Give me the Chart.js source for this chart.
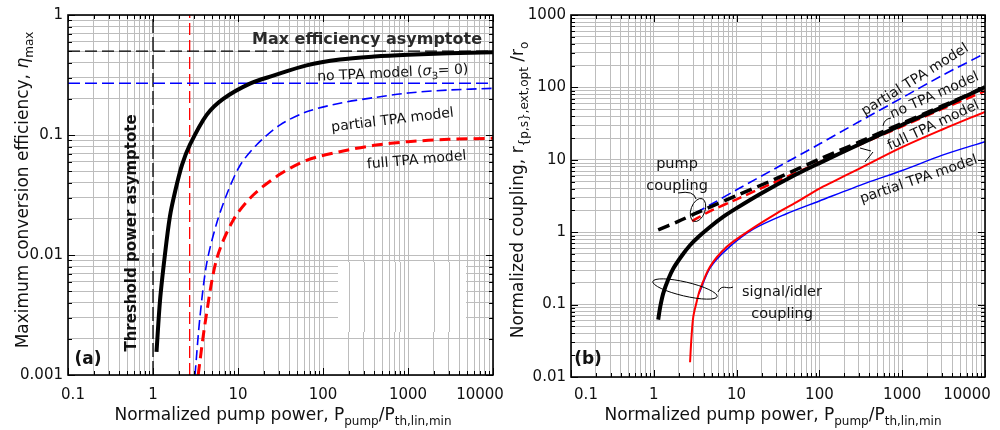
<!DOCTYPE html>
<html>
<head>
<meta charset="utf-8">
<script src="https://cdn.jsdelivr.net/npm/chart.js@4"></script>
<style>
  body { margin: 0; background: #fff; }
  #wrap { position: relative; width: 1000px; height: 430px; background: #fff; overflow: hidden; }
  canvas { position: absolute; top: 0; }
  #chartA { left: 0; }
  #chartB { left: 500px; }
</style>
</head>
<body>
<div id="wrap">
  <canvas id="chartA" width="510" height="430"></canvas>
  <canvas id="chartB" width="500" height="430"></canvas>
</div>
<script>
const FONT = '"DejaVu Sans", sans-serif';
const GRID = '#bdbdbd';

// tick labels
const xTickLabels = ['0.1', '1', '10', '100', '1000', '10000'];
const yTickLabelsA = ['0.001', '0.01', '0.1', '1'];
const yTickLabelsB = ['0.01', '0.1', '1', '10', '100', '1000'];

// (a) maximum conversion efficiency
const effNoTpaX = [1.1, 1.21, 1.38, 1.58, 1.815, 2.19, 2.72, 4.28, 6.7, 13.8, 26, 64, 158, 400, 1000, 3000, 10000];
const effNoTpaY = [0.00156, 0.0042, 0.01, 0.0209, 0.0335, 0.056, 0.083, 0.147, 0.2, 0.268, 0.312, 0.38, 0.425, 0.45, 0.466, 0.479, 0.489];
const effPartialX = [3.12, 3.57, 4.28, 5.61, 7.5, 10.6, 16.6, 31, 64, 158, 400, 1000, 3000, 10000];
const effPartialY = [0.001, 0.00306, 0.0085, 0.0184, 0.033, 0.056, 0.083, 0.121, 0.156, 0.184, 0.205, 0.224, 0.237, 0.245];
const effFullX = [3.4, 4.1, 5.6, 8.8, 15.1, 31, 64, 158, 400, 1000, 3000, 10000];
const effFullY = [0.001, 0.0027, 0.0092, 0.0196, 0.0316, 0.047, 0.0615, 0.0726, 0.082, 0.088, 0.092, 0.094];

// (a) asymptotes
const maxEffNoTpa = 0.5;
const maxEffPartial = 0.27;
const thresholdNoTpa = 1;
const thresholdFull = 2.7;

// (b) normalized coupling
const pumpNoTpaX = [1.13, 2, 3.3, 10, 30, 100, 300, 1000, 3000, 10000];
const pumpNoTpaY = [1.08, 1.42, 1.85, 3.2, 5.5, 10.2, 17.5, 32, 55, 100];
const pumpFullX = [2.9, 3.3, 5, 10, 30, 100, 300, 1000, 3000, 10000];
const pumpFullY = [1.42, 1.55, 2.0, 2.85, 5.0, 9.2, 16, 29, 50, 89];
const pumpPartialX = [3.2, 5, 10, 30, 100, 300, 1000, 3000, 10000];
const pumpPartialY = [1.85, 2.45, 3.85, 7.7, 16.5, 33.5, 72, 145, 295];
const sigNoTpaX = [1.13, 1.2, 1.3, 1.5, 1.72, 2.2, 2.74, 3.5, 4.77, 7, 10, 20, 50, 100, 300, 1000, 3000, 10000];
const sigNoTpaY = [0.062, 0.095, 0.143, 0.225, 0.315, 0.48, 0.66, 0.87, 1.18, 1.65, 2.15, 3.45, 6.1, 9.0, 16.3, 30.5, 53, 101];
const sigFullX = [2.74, 2.85, 3.0, 3.3, 3.6, 4.77, 7.6, 14.5, 30.5, 53, 100, 147, 300, 940, 3000, 10000];
const sigFullY = [0.016, 0.035, 0.068, 0.11, 0.159, 0.334, 0.63, 1.07, 1.82, 2.6, 4.0, 5.0, 7.5, 14.5, 26, 46];
const sigPartialX = [3.5, 4.77, 7.6, 15.9, 40, 100, 372, 1000, 3000, 10000];
const sigPartialY = [0.14, 0.32, 0.58, 1.1, 1.8, 2.7, 4.8, 7.1, 11.5, 17.8];

const pts = (xs, ys) => xs.map((x, i) => ({x, y: ys[i]}));

// gridlines at 1..9 of every decade
const gridFrom = (labels) => {
  const d = labels.map(Number);
  const out = [];
  d.forEach((v, i) => {
    if (i < d.length - 1) {
      for (let k = 1; k < 10; k++) out.push(+(v * k).toPrecision(6));
    } else {
      out.push(v);
    }
  });
  return out;
};

function logAxis(labels, size, horizontal) {
  const grid = gridFrom(labels);
  return {
    type: 'logarithmic',
    min: Number(labels[0]),
    max: Number(labels[labels.length - 1]),
    afterBuildTicks: (s) => {
      s.ticks = grid.map((v) => ({value: v}));
    },
    afterFit: (s) => {
      if (horizontal) s.height = size; else s.width = size;
    },
    ticks: {display: false},
    grid: {color: GRID, lineWidth: 1, drawTicks: false},
    border: {display: false},
  };
}

function line(data, color, width, dash, order, smooth) {
  return {
    data,
    borderColor: color,
    borderWidth: width,
    borderDash: dash || [],
    pointRadius: 0,
    fill: false,
    order,
    tension: smooth ? 0.3 : 0,
  };
}

function richText(ctx, parts, x, y, size, angle, align) {
  ctx.save();
  ctx.translate(x, y);
  ctx.rotate(angle || 0);
  const fontFor = (p) => `${p.italic ? 'italic ' : ''}${p.bold ? 'bold ' : ''}${p.sub ? Math.round(size * 0.7) : size}px ${FONT}`;
  let total = 0;
  parts.forEach((p) => {
    ctx.font = fontFor(p);
    total += ctx.measureText(p.t).width;
  });
  let cx = align === 'left' ? 0 : align === 'right' ? -total : -total / 2;
  ctx.textAlign = 'left';
  ctx.textBaseline = 'alphabetic';
  parts.forEach((p) => {
    ctx.font = fontFor(p);
    ctx.fillText(p.t, cx, p.sub ? size * 0.3 : 0);
    cx += ctx.measureText(p.t).width;
  });
  ctx.restore();
}

// frame, inward ticks, tick labels, axis titles
function framePlugin(cfg) {
  return {
    id: 'frame' + cfg.id,
    beforeDatasetsDraw(chart) {
      if (!cfg.blank) return;
      // blank patch in the grid: horizontal lines hidden, vertical ones kept
      const c = chart.ctx;
      const [bx, by, bw, bh] = cfg.blank;
      c.save();
      c.fillStyle = '#fff';
      c.fillRect(bx, by, bw, bh);
      c.strokeStyle = GRID;
      c.lineWidth = 1;
      chart.scales.x.ticks.forEach((t) => {
        const px = Math.round(chart.scales.x.getPixelForValue(t.value)) + 0.5;
        if (px < bx || px > bx + bw) return;
        c.beginPath();
        c.moveTo(px, by); c.lineTo(px, by + bh);
        c.stroke();
      });
      c.restore();
    },
    afterDraw(chart) {
      const c = chart.ctx;
      const a = chart.chartArea;
      const xs = chart.scales.x;
      const ys = chart.scales.y;
      c.save();
      c.strokeStyle = '#000';
      c.lineWidth = 1;
      xs.ticks.forEach((t) => {
        const px = Math.round(xs.getPixelForValue(t.value)) + 0.5;
        const len = cfg.xLabels.includes(String(t.value)) ? 7 : 4;
        c.beginPath();
        c.moveTo(px, a.bottom); c.lineTo(px, a.bottom - len);
        c.moveTo(px, a.top); c.lineTo(px, a.top + len);
        c.stroke();
      });
      ys.ticks.forEach((t) => {
        const py = Math.round(ys.getPixelForValue(t.value)) + 0.5;
        const len = cfg.yLabels.includes(String(t.value)) ? 7 : 4;
        c.beginPath();
        c.moveTo(a.left, py); c.lineTo(a.left + len, py);
        c.moveTo(a.right, py); c.lineTo(a.right - len, py);
        c.stroke();
      });
      c.lineWidth = 1.6;
      c.strokeRect(a.left, a.top, a.right - a.left, a.bottom - a.top);

      c.fillStyle = '#111';
      c.font = `15px ${FONT}`;
      c.textBaseline = 'middle';
      c.textAlign = 'center';
      cfg.xLabels.forEach((l, i) => {
        c.fillText(l, xs.getPixelForValue(Number(l)) + cfg.xShift[i], 395);
      });
      c.textAlign = 'right';
      cfg.yLabels.forEach((l) => {
        c.fillText(l, a.left - 5, ys.getPixelForValue(Number(l)));
      });
      c.restore();

      c.save();
      c.fillStyle = '#111';
      richText(c, cfg.xTitle, cfg.xTitlePos[0], cfg.xTitlePos[1], 17, 0);
      richText(c, cfg.yTitle, cfg.yTitlePos[0], cfg.yTitlePos[1], 17, -Math.PI / 2);
      cfg.notes(c, chart);
      c.restore();
    },
  };
}

const xTitle = [
  {t: 'Normalized pump power, P'}, {t: 'pump', sub: true},
  {t: '/P'}, {t: 'th,lin,min', sub: true},
];

// panel (a)
new Chart(document.getElementById('chartA'), {
  type: 'line',
  data: {
    datasets: [
      line(pts(effNoTpaX, effNoTpaY), '#000', 4, [], 0, true),
      line(pts(effFullX, effFullY), '#ff0000', 3, [11, 6], 1, true),
      line(pts(effPartialX, effPartialY), '#0000ff', 1.6, [10, 5], 2, true),
      line(pts([0.1, 10000], [maxEffNoTpa, maxEffNoTpa]), '#000', 1.3, [12, 5], 3),
      line(pts([0.1, 10000], [maxEffPartial, maxEffPartial]), '#0000ff', 1.3, [12, 5], 4),
      line(pts([thresholdNoTpa, thresholdNoTpa], [0.001, 1]), '#000', 1.3, [14, 4], 5),
      line(pts([thresholdFull, thresholdFull], [0.001, 1]), '#ff0000', 1.3, [12, 5], 6),
    ],
  },
  options: {
    responsive: false,
    animation: false,
    devicePixelRatio: 1,
    events: [],
    layout: {padding: {left: 0, right: 17, top: 15, bottom: 0}},
    scales: {
      x: logAxis(xTickLabels, 55, true),
      y: logAxis(yTickLabelsA, 68, false),
    },
    plugins: {legend: {display: false}, tooltip: {enabled: false}},
  },
  plugins: [framePlugin({
    id: 'A',
    xLabels: xTickLabels,
    yLabels: yTickLabelsA,
    xShift: [5, 0, 0, 0, 0, -13],
    xTitle,
    xTitlePos: [283, 420],
    yTitle: [{t: 'Maximum conversion efficiency, '}, {t: 'η', italic: true}, {t: 'max', sub: true}],
    yTitlePos: [28, 190],
    blank: [338, 262, 128, 70],
    notes: (c) => {
      c.fillStyle = '#2a2a2a';
      richText(c, [{t: 'Max efficiency asymptote', bold: true}], 367, 44, 16, 0);
      c.fillStyle = '#111';
      richText(c, [{t: 'no TPA model ('}, {t: 'σ', italic: true}, {t: '3', sub: true}, {t: '= 0)'}], 393, 77, 14, -0.05);
      richText(c, [{t: 'partial TPA model'}], 393, 124, 14, -0.12);
      richText(c, [{t: 'full TPA model'}], 417, 164, 14, -0.09);
      richText(c, [{t: 'Threshold power asymptote', bold: true}], 136, 233, 15, -Math.PI / 2);
      richText(c, [{t: '(a)', bold: true}], 88, 364, 17, 0);
    },
  })],
});

// panel (b)
new Chart(document.getElementById('chartB'), {
  type: 'line',
  data: {
    datasets: [
      line(pts(sigNoTpaX, sigNoTpaY), '#000', 4, [], 0, true),
      line(pts(pumpNoTpaX, pumpNoTpaY), '#000', 3.5, [12, 6], 1, true),
      line(pts(pumpFullX, pumpFullY), '#ff0000', 2.5, [10, 5], 2, true),
      line(pts(pumpPartialX, pumpPartialY), '#0000ff', 1.6, [10, 5], 3, true),
      line(pts(sigFullX, sigFullY), '#ff0000', 2, [], 4, true),
      line(pts(sigPartialX, sigPartialY), '#0000ff', 1.5, [], 5, true),
    ],
  },
  options: {
    responsive: false,
    animation: false,
    devicePixelRatio: 1,
    events: [],
    layout: {padding: {left: 0, right: 15, top: 15, bottom: 0}},
    scales: {
      x: logAxis(xTickLabels, 53, true),
      y: logAxis(yTickLabelsB, 71, false),
    },
    plugins: {legend: {display: false}, tooltip: {enabled: false}},
  },
  plugins: [framePlugin({
    id: 'B',
    xLabels: xTickLabels,
    yLabels: yTickLabelsB,
    xShift: [15, 0, 0, 0, 0, -18],
    xTitle,
    xTitlePos: [273, 420],
    yTitle: [{t: 'Normalized coupling, r'}, {t: '{p,s},ext,opt', sub: true}, {t: ' /r'}, {t: 'o', sub: true}],
    yTitlePos: [23, 190],
    notes: (c) => {
      c.fillStyle = '#111';
      richText(c, [{t: 'partial TPA model'}], 417, 83, 14, -0.56);
      richText(c, [{t: 'no TPA model'}], 436, 99, 14, -0.42);
      richText(c, [{t: 'full TPA model'}], 435, 129, 14, -0.44);
      richText(c, [{t: 'partial TPA model'}], 420, 183, 14, -0.33);
      richText(c, [{t: 'pump'}], 177, 168, 14.5, 0);
      richText(c, [{t: 'coupling'}], 177, 190, 14.5, 0);
      richText(c, [{t: 'signal/idler'}], 282, 296, 14.5, 0);
      richText(c, [{t: 'coupling'}], 282, 318, 14.5, 0);
      richText(c, [{t: '(b)', bold: true}], 88, 364, 17, 0);
      c.strokeStyle = '#000';
      c.lineWidth = 1;
      c.beginPath();
      c.ellipse(198, 210, 7, 12, 0.35, 0, Math.PI * 2);
      c.stroke();
      c.beginPath();
      c.ellipse(185, 289, 33, 7, 0.23, 0, Math.PI * 2);
      c.stroke();
      c.beginPath();
      c.moveTo(178, 193); c.quadraticCurveTo(194, 190, 196, 199);
      c.moveTo(218, 292); c.bezierCurveTo(222, 283, 227, 290, 233, 287);
      c.moveTo(383, 126); c.quadraticCurveTo(384, 119, 391, 118);
      c.moveTo(360, 148); c.lineTo(371, 151);
      c.moveTo(365, 162); c.lineTo(373, 152);
      c.stroke();
    },
  })],
});
</script>
</body>
</html>
